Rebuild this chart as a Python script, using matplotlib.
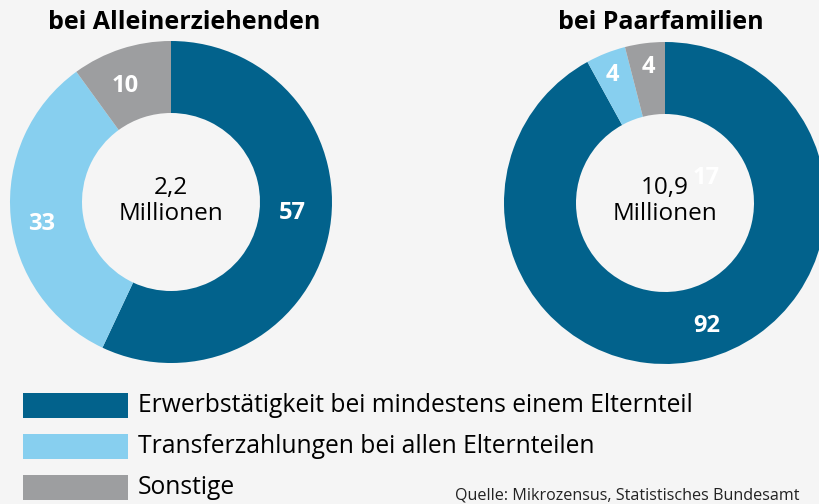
import numpy as np
import matplotlib.pyplot as plt
from matplotlib.patches import Rectangle

plt.rcParams['font.family'] = ['Open Sans', 'DejaVu Sans']

# data
categories = ['Erwerbstätigkeit bei mindestens einem Elternteil',
              'Transferzahlungen bei allen Elternteilen',
              'Sonstige']
colors = ['#02628c', '#87cfef', '#9d9ea0']
allein_values = [57, 33, 10]
paar_values = [92, 4, 4]
titles = ['bei Alleinerziehenden', 'bei Paarfamilien']
totals = ['2,2', '10,9']
unit = 'Millionen'
source = 'Quelle: Mikrozensus, Statistisches Bundesamt'

W, H = 820, 504
bg = '#f5f5f5'

fig = plt.figure(figsize=(8.2, 5.04), dpi=100, facecolor=bg)
ax = fig.add_axes([0, 0, 1, 1])
ax.set_facecolor(bg)


def py(y):
    # pixel row (top-down) to axis y (bottom-up)
    return H - y


donuts = [
    dict(values=allein_values, center=(171, 202), title_x=184, total=totals[0],
         label_pos=[(292, 213), (42, 224), (125, 86)]),
    dict(values=paar_values, center=(665, 203), title_x=661, total=totals[1],
         label_pos=[(707, 326), (612, 75), (648, 67)]),
]

for i, d in enumerate(donuts):
    cx, cy = d['center']
    ax.pie(d['values'], colors=colors, startangle=90, counterclock=False,
           radius=161, center=(cx, py(cy)), frame=True,
           wedgeprops=dict(width=72, edgecolor='none', linewidth=0))
    ax.text(d['title_x'], py(22), titles[i], ha='center', va='center',
            fontsize=18, fontweight='bold', color='black')
    ax.text(cx, py(188), d['total'], ha='center', va='center',
            fontsize=17.5, color='black')
    ax.text(cx, py(214), unit, ha='center', va='center',
            fontsize=17.5, color='black')
    for v, (lx, ly) in zip(d['values'], d['label_pos']):
        ax.text(lx, py(ly), str(v), ha='center', va='center',
                fontsize=17, fontweight='bold', color='white')

# stray label left in the source graphic
ax.text(706, py(178), '17', ha='center', va='center',
        fontsize=17, fontweight='bold', color='white')

# legend
legend_rows = [405.5, 446.5, 488]
for cat, col, ry in zip(categories, colors, legend_rows):
    ax.add_patch(Rectangle((23, py(ry + 12.5)), 105, 25, facecolor=col, edgecolor='none'))
    ax.text(138, py(ry), cat, ha='left', va='center', fontsize=17.7, color='black')

ax.text(800, py(496), source, ha='right', va='center', fontsize=11.6, color='#222222')

ax.set_xlim(0, W)
ax.set_ylim(0, H)
ax.set_aspect('equal')
ax.axis('off')

fig.savefig('out.png', dpi=100, facecolor=bg)
